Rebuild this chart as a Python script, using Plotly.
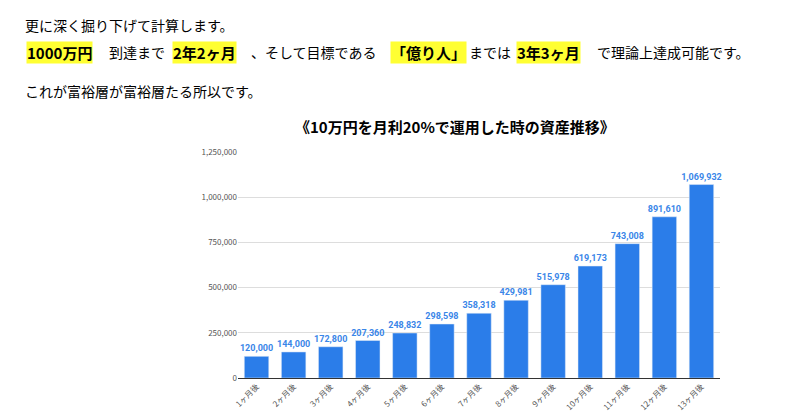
import plotly.graph_objects as go

categories = [f"{i}ヶ月後" for i in range(1, 14)]
values = [120000, 144000, 172800, 207360, 248832, 298598, 358318, 429981, 515978, 619173, 743008, 891610, 1069932]
tick_vals = [0, 250000, 500000, 750000, 1000000, 1250000]
tick_text = ["0", "250,000", "500,000", "750,000", "1,000,000", "1,250,000"]

W, H = 800, 420
L, R, T, B = 230, 88, 144, 50
font = "Noto Sans CJK JP"
fig = go.Figure(go.Bar(
    x=categories, y=values, marker_color="#2b7de9",
    text=[f"<b>{v:,}</b>" for v in values], textposition="outside", constraintext="none",
    textfont=dict(color="#3a86e8", size=9, family="Roboto"), cliponaxis=False,
    width=0.66,
))
fig.update_layout(
    width=W, height=H, margin=dict(l=L, r=R, t=T, b=B, autoexpand=False),
    plot_bgcolor="white", paper_bgcolor="white", showlegend=False,
    font=dict(family=font),
)
fig.update_xaxes(tickangle=-45, tickfont=dict(size=8, color="#555"), showline=True,
                 linecolor="#333", linewidth=1, ticks="", automargin=False)
fig.update_yaxes(range=[0, 1250000], tickvals=tick_vals, ticktext=tick_text, automargin=False,
                 tickfont=dict(size=8, color="#555"), gridcolor="#ddd", zeroline=False)

def px(x): return (x - L) / (W - L - R)
def py(y): return (H - B - y) / (H - T - B)

def ann(text, x, y, size=15, bold=False, bg=None, xanchor="left"):
    fig.add_annotation(text=f"<b>{text}</b>" if bold else text, x=px(x), y=py(y),
                       xref="paper", yref="paper", xanchor=xanchor, yanchor="middle",
                       showarrow=False, font=dict(size=size, color="black", family=font),
                       bgcolor=bg, borderpad=0)

ann("更に深く掘り下げて計算します。", 16, 17, 14)
segs = [("1000万円", 18, True), ("到達まで", 100, False), ("2年2ヶ月", 164, True),
        ("、そして目標である", 242, False), ("「億り人」", 382, True), ("までは", 460, False),
        ("3年3ヶ月", 508, True), ("で理論上達成可能です。", 588, False)]
for t, x, b in segs:
    ann(t, x, 44, 15 if b else 14, bold=b, bg="#ffff33" if b else None)
ann("これが富裕層が富裕層たる所以です。", 16, 83, 14)
ann("《10万円を月利20%で運用した時の資産推移》", 447, 118, 15, bold=True, xanchor="center")

fig.write_html("out.html")
